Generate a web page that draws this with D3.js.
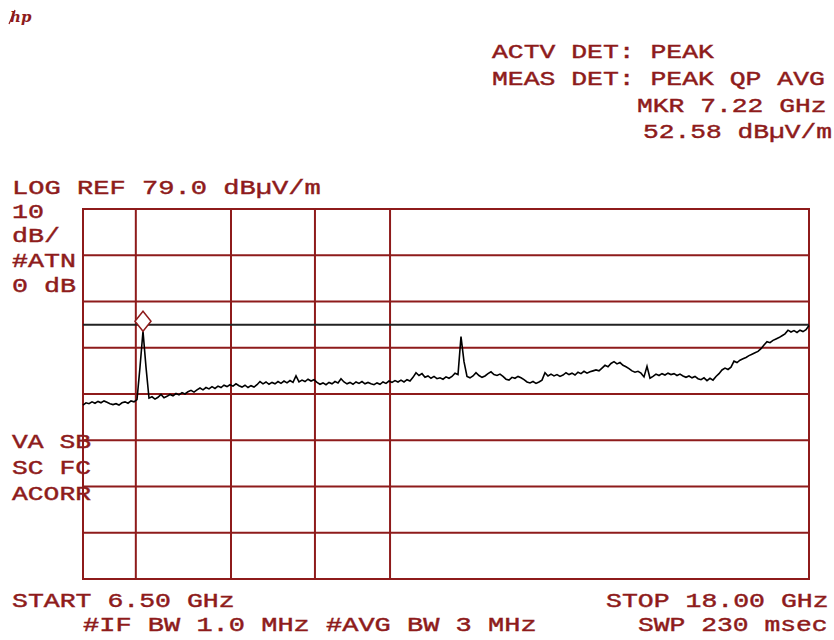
<!DOCTYPE html>
<html>
<head>
<meta charset="utf-8">
<script src="https://cdn.jsdelivr.net/npm/d3@7"></script>
<style>
  html, body { margin: 0; padding: 0; background: #fff; }
  svg { display: block; }
</style>
</head>
<body>
<svg id="chart" width="834" height="640"></svg>
<script>
// ---- instrument settings ----
const startGHz = 6.5;
const stopGHz = 18.0;
const refLevel = 79.0;        // dBµV/m, top of screen
const dbPerDiv = 10;
const numDivs = 8;
const limitDb = 54.0;         // horizontal limit line
const markerDb = 52.58;       // marker reading
const gridFreqs = [7, 8, 9, 10];   // log-grid lines (GHz)

// ---- trace (dBµV/m), sampled evenly along the log sweep ----
const traceDb = [
  36.6, 37.1, 36.9, 37.3, 37.0, 37.4, 37.1, 37.5, 37.2, 36.9,
  36.7, 36.9, 36.6, 37.1, 37.3, 37.0, 37.5, 37.3, 37.8, 44.8,
  52.58, 44.8, 38.1, 38.4, 37.9, 38.3, 38.9, 38.2, 38.5, 38.9,
  38.6, 39.1, 38.8, 39.3, 39.0, 39.5, 39.8, 39.4, 39.9, 40.3,
  39.9, 40.4, 40.1, 40.6, 40.2, 40.7, 40.4, 40.9, 40.6, 41.0,
  40.7, 41.2, 40.8, 40.5, 40.9, 40.4, 40.8, 40.5, 41.0, 41.7,
  41.2, 41.6, 41.1, 41.5, 41.2, 41.7, 41.3, 41.8, 41.4, 41.9,
  41.5, 42.9, 41.6, 42.0, 41.7, 42.2, 41.8, 42.1, 41.5, 41.1,
  41.4, 41.0, 41.5, 41.2, 41.7, 41.4, 42.3, 41.6, 41.2, 41.5,
  41.1, 41.6, 41.3, 41.7, 41.2, 41.5, 41.2, 41.0, 41.4, 41.1,
  41.6, 41.3, 41.8, 41.5, 41.9, 41.6, 42.0, 41.6, 42.1, 41.8,
  42.6, 43.6, 43.0, 43.4, 42.6, 42.9, 42.4, 42.8, 42.3, 42.5,
  42.2, 42.7, 42.4, 42.8, 43.5, 43.2, 51.4, 46.0, 42.8, 42.5,
  42.9, 43.6, 43.0, 42.6, 42.9, 43.4, 43.8, 43.2, 43.0, 43.3,
  42.8, 42.2, 42.0, 42.6, 42.4, 42.8, 42.5, 42.1, 41.6, 41.4,
  41.7, 41.3, 41.6, 42.0, 43.6, 42.9, 43.3, 42.9, 43.2, 42.8,
  43.1, 43.6, 43.2, 43.5, 43.1, 43.7, 43.4, 43.9, 43.5, 43.8,
  44.0, 44.2, 44.0, 44.6, 45.2, 44.9, 45.6, 46.0, 45.5, 45.8,
  45.2, 44.9, 44.5, 44.0, 43.7, 43.9, 43.5, 42.7, 45.0, 42.4,
  42.8, 43.3, 43.0, 43.4, 43.1, 43.5, 43.2, 43.4, 43.0, 43.3,
  42.9, 42.6, 42.9, 42.5, 42.8, 42.3, 42.1, 42.5, 41.9, 42.4,
  42.0, 42.8, 43.4, 44.2, 44.6, 44.3, 44.8, 46.1, 45.8, 46.3,
  46.6, 46.9, 47.3, 47.6, 47.9, 48.2, 48.8, 49.6, 50.3, 50.1,
  50.6, 50.9, 51.2, 51.6, 52.0, 52.8, 52.4, 52.7, 52.3, 52.8,
  52.5, 52.9, 53.8
];

// ---- screen annotations ----
const leftLabels = ["LOG REF 79.0 dBµV/m", "10", "dB/", "#ATN", "0 dB"];
const statusLabels = ["VA SB", "SC FC", "ACORR"];
const topRightLabels = ["ACTV DET: PEAK", "MEAS DET: PEAK QP AVG", "MKR 7.22 GHz", "52.58 dBµV/m"];
const startLabel = "START 6.50 GHz";
const stopLabel = "STOP 18.00 GHz";
const bwLabel = "#IF BW 1.0 MHz #AVG BW 3 MHz";
const sweepLabel = "SWP 230 msec";

// ---- layout ----
const RED = "#8e1b1b";
const plot = { left: 83, right: 809, top: 209, bottom: 579 };
const fontSize = 21;

const svg = d3.select("#chart");
svg.append("rect").attr("width", 834).attr("height", 640).attr("fill", "#fff");

const x = d3.scaleLog().domain([startGHz, stopGHz]).range([plot.left, plot.right]);
const bottomDb = refLevel - dbPerDiv * numDivs;
const y = d3.scaleLinear().domain([bottomDb, refLevel]).range([plot.bottom, plot.top]);

// grid
const g = svg.append("g");
const hVals = d3.range(numDivs + 1).map(k => bottomDb + k * dbPerDiv);
g.selectAll("line.h").data(hVals).join("line")
  .attr("x1", plot.left).attr("x2", plot.right)
  .attr("y1", d => y(d)).attr("y2", d => y(d))
  .attr("stroke", RED).attr("stroke-width", 2);
const vVals = [startGHz, ...gridFreqs, stopGHz];
g.selectAll("line.v").data(vVals).join("line")
  .attr("x1", d => x(d)).attr("x2", d => x(d))
  .attr("y1", plot.top - 1).attr("y2", plot.bottom + 1)
  .attr("stroke", RED).attr("stroke-width", 2);

// limit line
svg.append("line")
  .attr("x1", plot.left).attr("x2", plot.right)
  .attr("y1", y(limitDb)).attr("y2", y(limitDb))
  .attr("stroke", "#222").attr("stroke-width", 2);

// trace
const N = traceDb.length;
const freqAt = i => startGHz * Math.pow(stopGHz / startGHz, i / (N - 1));
const line = d3.line().x((d, i) => x(freqAt(i))).y(d => y(d));
svg.append("path").datum(traceDb)
  .attr("d", line)
  .attr("fill", "none").attr("stroke", "#000").attr("stroke-width", 1.6)
  .attr("stroke-linejoin", "miter");

// marker diamond, sitting on the marked sample
const mi = traceDb.indexOf(markerDb);
const mx = x(freqAt(mi)), my = y(markerDb);
svg.append("path")
  .attr("d", `M${mx},${my} L${mx + 8},${my - 10} L${mx},${my - 20} L${mx - 8},${my - 10} Z`)
  .attr("fill", "#fff").attr("stroke", RED).attr("stroke-width", 1.5);

// text helper
function label(str, x0, yb, cw) {
  svg.append("text")
    .attr("x", x0).attr("y", yb)
    .attr("font-family", "'Liberation Mono', 'DejaVu Sans Mono', monospace")
    .attr("font-size", fontSize)
    .attr("fill", RED)
    .attr("stroke", RED).attr("stroke-width", 0.45)
    .attr("textLength", str.length * cw)
    .attr("lengthAdjust", "spacingAndGlyphs")
    .text(str);
}

const leftBase = [194, 218, 242, 267, 292];
leftLabels.forEach((s, i) => label(s, 12, leftBase[i], i === 0 ? 16.25 : 16.0));
const statusBase = [448, 474, 500];
statusLabels.forEach((s, i) => label(s, 12, statusBase[i], 15.8));
label(topRightLabels[0], 492, 58, 15.85);
label(topRightLabels[1], 492, 85, 15.85);
label(topRightLabels[2], 637, 112, 15.8);
label(topRightLabels[3], 643, 138, 15.75);
label(startLabel, 12, 607, 15.9);
label(stopLabel, 606, 607, 15.9);
label(bwLabel, 83, 631, 16.2);
label(sweepLabel, 638, 631, 15.8);

// hp logo
svg.append("text")
  .attr("x", 10).attr("y", 22)
  .attr("font-family", "'DejaVu Serif', serif")
  .attr("font-style", "italic").attr("font-weight", "bold")
  .attr("font-size", 15).attr("fill", RED)
  .text("hp");
svg.append("line").attr("x1", 9).attr("y1", 24).attr("x2", 15).attr("y2", 10)
  .attr("stroke", RED).attr("stroke-width", 1.2);
</script>
</body>
</html>
